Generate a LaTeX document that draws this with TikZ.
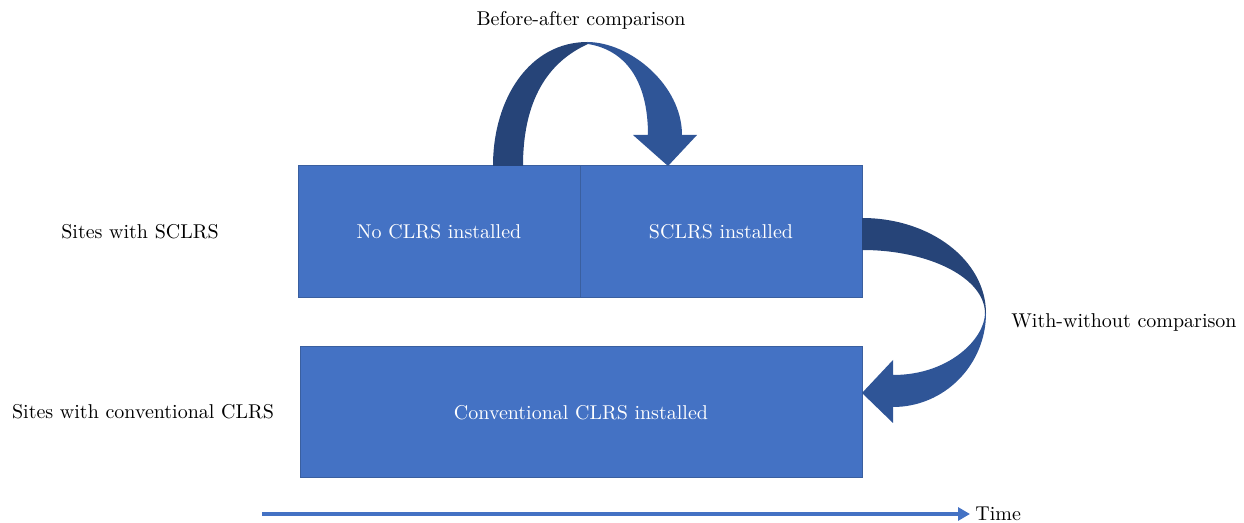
\documentclass[tikz,border=0pt]{standalone}
\usetikzlibrary{arrows.meta}
\definecolor{boxblue}{HTML}{4472C4}
\definecolor{boxedge}{HTML}{3A5F9F}
\definecolor{arrdark}{HTML}{264478}
\definecolor{arrlight}{HTML}{2F5597}
\definecolor{timeblue}{HTML}{4472C4}
\tikzset{
  blockbox/.style={draw=boxedge, fill=boxblue, line width=0.5pt, text=white, inner sep=0pt,
    minimum width=141pt, minimum height=66pt},
  sidelabel/.style={text=black, inner sep=0pt},
  darkpart/.style={fill=arrdark, draw=none},
  lightpart/.style={fill=arrlight, draw=none},
  timeline/.style={draw=timeblue, line width=2pt, -{Triangle[length=6pt,width=6.5pt]}}
}
\begin{document}
\begin{tikzpicture}[x=0.5pt,y=-0.5pt, font=\fontsize{10}{12}\selectfont]
\useasboundingbox (0,0) rectangle (1244,523);

% boxes
\node[blockbox] (noclrs) at (439,232) {No CLRS installed};
\node[blockbox] (sclrs) at (721,232) {SCLRS installed};
\node[blockbox, minimum width=281pt, minimum height=65.5pt] (conv) at (581,412.5) {Conventional CLRS installed};

% side labels
\node[sidelabel] (lab1) at (140,232) {Sites with SCLRS};
\node[sidelabel] (lab2) at (143,412) {Sites with conventional CLRS};
\node[sidelabel] (lab3) at (581,20) {Before-after comparison};
\node[sidelabel] (lab4) at (1124,323) {With-without comparison};

% before-after curved arrow
\fill[darkpart] (493,166) .. controls (493,98) and (530,42) .. (587.5,42)
  -- (588,44) .. controls (548,62) and (523,100) .. (523,166) -- cycle;
\fill[lightpart] (587,42) .. controls (630,42) and (682,85) .. (682,135)
  -- (697,135) -- (668,166) -- (633,135) -- (648,135)
  .. controls (648,80) and (625,50) .. (588,44) -- cycle;

% with-without curved arrow
\fill[darkpart] (862,218) .. controls (930.5,218) and (986,260.5) .. (986,313.5)
  -- (985,313.5) .. controls (985,278.2) and (929.9,250) .. (862,250) -- cycle;
\fill[lightpart] (986,313) .. controls (986,364.9) and (944.4,407) .. (893,407)
  -- (893,423) -- (862,393) -- (893,360) -- (893,375)
  .. controls (950,375) and (985,338) .. (985,313) -- cycle;

% time axis
\coordinate (tstart) at (262,514);
\node[sidelabel, anchor=west] (time) at (975,514) {Time};
\draw[timeline] (tstart) -- ([xshift=-2.5pt]time.west);
\end{tikzpicture}
\end{document}
